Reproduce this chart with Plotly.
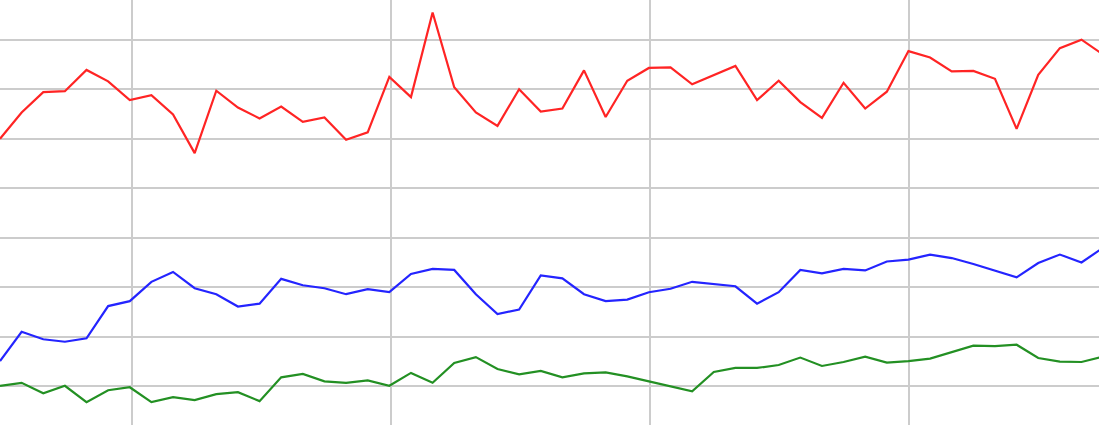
import plotly.graph_objects as go

x_index = list(range(52))

red_values = [70.0, 75.3, 79.4, 79.6, 83.9, 81.6, 77.8, 78.8, 74.9, 67.1,
              79.7, 76.3, 74.1, 76.5, 73.4, 74.3, 69.8, 71.3, 82.5, 78.4,
              95.5, 80.4, 75.3, 72.6, 80.0, 75.5, 76.1, 83.8, 74.4, 81.7,
              84.3, 84.4, 81.0, 82.8, 84.7, 77.8, 81.7, 77.4, 74.2, 81.3,
              76.1, 79.5, 87.7, 86.4, 83.6, 83.7, 82.1, 72.0, 82.9, 88.3,
              90.0, 87.0]

blue_values = [25.1, 31.0, 29.5, 29.0, 29.7, 36.2, 37.2, 41.1, 43.1, 39.8,
               38.6, 36.1, 36.7, 41.7, 40.4, 39.8, 38.6, 39.6, 39.0, 42.7,
               43.7, 43.5, 38.6, 34.6, 35.5, 42.4, 41.8, 38.6, 37.2, 37.5,
               39.0, 39.7, 41.1, 40.7, 40.2, 36.7, 39.0, 43.5, 42.8, 43.7,
               43.4, 45.2, 45.6, 46.6, 45.9, 44.7, 43.3, 42.0, 44.9, 46.6,
               45.0, 48.0]

green_values = [20.1, 20.7, 18.6, 20.1, 16.8, 19.2, 19.8, 16.8, 17.8, 17.2,
                18.4, 18.8, 17.0, 21.8, 22.5, 21.0, 20.7, 21.2, 20.1, 22.7,
                20.7, 24.7, 25.9, 23.5, 22.4, 23.1, 21.8, 22.6, 22.8, 22.0,
                21.0, 20.0, 19.0, 22.9, 23.7, 23.7, 24.3, 25.8, 24.1, 24.9,
                26.0, 24.8, 25.1, 25.6, 26.9, 28.2, 28.1, 28.4, 25.7, 25.0,
                24.9, 26.0]

fig = go.Figure()
for vals, col in [(red_values, "#ff2424"), (blue_values, "#2424ff"), (green_values, "#239023")]:
    fig.add_trace(go.Scatter(x=x_index, y=vals, mode="lines",
                             line=dict(color=col, width=2.2), hoverinfo="skip"))

fig.update_layout(
    width=1099, height=425,
    margin=dict(l=0, r=0, t=0, b=0, pad=0),
    paper_bgcolor="white", plot_bgcolor="white",
    showlegend=False,
    xaxis=dict(range=[0, 1099 / 21.63], tickmode="linear", tick0=6.1, dtick=11.98,
               showgrid=True, gridcolor="#cccccc", gridwidth=2,
               showticklabels=False, zeroline=False, showline=False, ticks=""),
    yaxis=dict(range=[12.18, 98.02], tickmode="linear", tick0=20, dtick=10,
               showgrid=True, gridcolor="#cccccc", gridwidth=2,
               showticklabels=False, zeroline=False, showline=False, ticks=""),
)

fig.write_html("out.html", config={"displayModeBar": False},
               post_script="document.body.style.margin='0';document.body.style.overflow='hidden';")
